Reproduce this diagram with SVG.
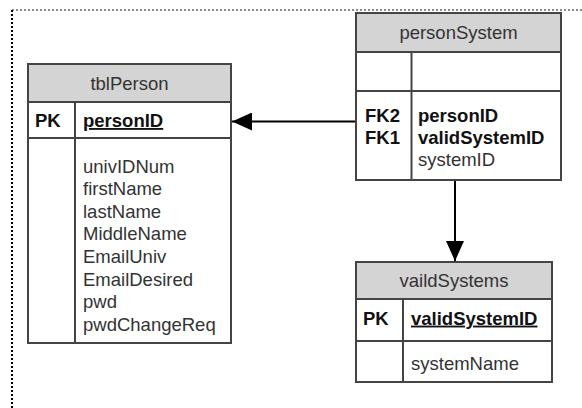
<svg xmlns="http://www.w3.org/2000/svg" width="582" height="408" viewBox="0 0 582 408">
  <style>
    .box { fill: #ffffff; stroke: #444444; stroke-width: 2; }
    .hdr { fill: #d4d4d4; stroke: #444444; stroke-width: 2; }
    .sep { stroke: #444444; stroke-width: 2; fill: none; }
    .t { font-family: "Liberation Sans", Arial, sans-serif; font-size: 18.5px; fill: #333333; }
    .title { text-anchor: middle; }
    .key { font-weight: bold; fill: #111111; }
    .u { text-decoration: underline; }
    .conn { stroke: #000000; stroke-width: 2; fill: none; }
  </style>
  <defs>
    <marker id="arrow" viewBox="0 0 20 18" refX="20" refY="9" markerWidth="20" markerHeight="18" markerUnits="userSpaceOnUse" orient="auto">
      <path d="M0,0 L20,9 L0,18 Z" fill="#000000"/>
    </marker>
  </defs>

  <rect width="582" height="408" fill="#ffffff"/>

  <!-- frame -->
  <line x1="12" y1="10" x2="582" y2="10" stroke="#8a8a8a" stroke-width="2" stroke-dasharray="2,2"/>
  <line x1="12" y1="10" x2="12" y2="408" stroke="#000000" stroke-width="2" stroke-dasharray="2,2"/>

  <!-- connectors -->
  <g id="connectors">
    <line class="conn" x1="356" y1="121.5" x2="232" y2="121.5" marker-end="url(#arrow)"/>
    <line class="conn" x1="455" y1="180" x2="455" y2="261" marker-end="url(#arrow)"/>
  </g>

  <!-- tblPerson -->
  <g id="tblPerson">
    <rect class="box" x="28" y="64" width="203" height="279"/>
    <rect class="hdr" x="28" y="64" width="203" height="38"/>
    <line class="sep" x1="28" y1="138" x2="231" y2="138"/>
    <line class="sep" x1="75" y1="102" x2="75" y2="343"/>
    <text class="t title" x="129.5" y="89.5">tblPerson</text>
    <text class="t key" x="35" y="127">PK</text>
    <text class="t key u" x="83" y="127">personID</text>
    <text class="t" x="83" y="172.6">univIDNum</text>
    <text class="t" x="83" y="195.2">firstName</text>
    <text class="t" x="83" y="217.8">lastName</text>
    <text class="t" x="83" y="240.4">MiddleName</text>
    <text class="t" x="83" y="263">EmailUniv</text>
    <text class="t" x="83" y="285.6">EmailDesired</text>
    <text class="t" x="83" y="308.2">pwd</text>
    <text class="t" x="83" y="330.8">pwdChangeReq</text>
  </g>

  <!-- personSystem -->
  <g id="personSystem">
    <rect class="box" x="356" y="13" width="205" height="167"/>
    <rect class="hdr" x="356" y="13" width="205" height="39"/>
    <line class="sep" x1="356" y1="91" x2="561" y2="91"/>
    <line class="sep" x1="411.5" y1="52" x2="411.5" y2="180"/>
    <text class="t title" x="458.5" y="38.5">personSystem</text>
    <text class="t key" x="365" y="121.6">FK2</text>
    <text class="t key" x="365" y="143.6">FK1</text>
    <text class="t key" x="418" y="121.6">personID</text>
    <text class="t key" x="418" y="143.6">validSystemID</text>
    <text class="t" x="418" y="165.6">systemID</text>
  </g>

  <!-- vaildSystems -->
  <g id="vaildSystems">
    <rect class="box" x="356" y="262" width="196" height="120"/>
    <rect class="hdr" x="356" y="262" width="196" height="37"/>
    <line class="sep" x1="356" y1="341" x2="552" y2="341"/>
    <line class="sep" x1="403" y1="299" x2="403" y2="382"/>
    <text class="t title" x="454" y="286.6">vaildSystems</text>
    <text class="t key" x="363" y="324.6">PK</text>
    <text class="t key u" x="411" y="324.6">validSystemID</text>
    <text class="t" x="411" y="369.6">systemName</text>
  </g>
</svg>
